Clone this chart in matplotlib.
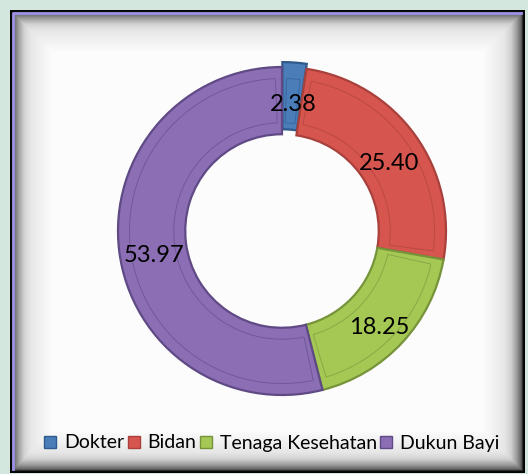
import numpy as np
import matplotlib
matplotlib.use('Agg')
import matplotlib.pyplot as plt
from matplotlib.lines import Line2D
from matplotlib.patches import Wedge

plt.rcParams['font.family'] = ['Lato', 'DejaVu Sans']

categories = ['Dokter', 'Bidan', 'Tenaga Kesehatan', 'Dukun Bayi']
values = [2.38, 25.40, 18.25, 53.97]
colors = ['#4b7db9', '#d7554f', '#a5c855', '#8c6eb4']
edge_colors = ['#2f5a8c', '#a8403b', '#76933a', '#5f4a85']

W, H = 528, 474
fig = plt.figure(figsize=(W / 100, H / 100), dpi=100)
fig.patch.set_facecolor('#d3e7df')

# frame: black border + grey bevel fading into white panel
bg = fig.add_axes([0, 0, 1, 1])
bg.set_xlim(0, W)
bg.set_ylim(H, 0)
bg.axis('off')
x0, x1, y0, y1 = 10, 525, 10, 473
xs = np.arange(x0, x1) + 0.5
ys = np.arange(y0, y1) + 0.5
XX, YY = np.meshgrid(xs, ys)
d = np.minimum.reduce([XX - x0, x1 - XX, YY - y0, y1 - YY])
shade = np.interp(d, [0, 2, 3, 4, 8, 14, 20, 30, 42], [0.0, 0.05, 0.3, 0.4, 0.6, 0.82, 0.9, 0.94, 0.99])
img = np.clip(np.dstack([shade, shade, shade]), 0, 1)
bg.imshow(img, extent=[x0, x1, y1, y0], interpolation='bilinear', zorder=0)
bg.plot([x0 + 3, x0 + 3, x1 - 4], [y1 - 4, y0 + 3, y0 + 3], color='#9c90e8', lw=2)

# doughnut
R = 164
cx, cy = 282, 231
ax = fig.add_axes([(cx - 1.1 * R) / W, (H - cy - 1.1 * R) / H, 2.2 * R / W, 2.2 * R / H])

wedges, texts, autotexts = ax.pie(
    values, colors=colors, startangle=90, counterclock=False,
    explode=[0.03, 0, 0, 0], radius=1.0, autopct='%.2f', pctdistance=0.795,
    wedgeprops=dict(width=0.41, linewidth=1.6),
    textprops=dict(fontsize=17, color='black'))
ax.set_xlim(-1.1, 1.1)
ax.set_ylim(-1.1, 1.1)
ax.axis('off')
for w, ec in zip(wedges, edge_colors):
    w.set_edgecolor(ec)
for t in autotexts:
    px, py = t.get_position()
    t.set_position((px + 0.01, py - 0.05))

# inset bevel lines
ang = 90
for v, ec in zip(values, edge_colors):
    span = v * 3.6
    a1, a2 = ang - span, ang
    inset = min(2.5, span * 0.2)
    ax.add_patch(Wedge((0, 0), 0.93, a1 + inset, a2 - inset, width=0.27,
                       fill=False, edgecolor=ec, lw=0.7, alpha=0.6))
    ang = a1

handles = [Line2D([], [], marker='s', ls='none', markersize=9,
                  markerfacecolor=c, markeredgecolor=e) for c, e in zip(colors, edge_colors)]
fig.legend(handles, categories, loc='center', bbox_to_anchor=(271 / W, 1 - 443 / H),
           ncol=4, frameon=False, fontsize=14, handlelength=0.8, handletextpad=0.3,
           columnspacing=0.1, borderpad=0)

fig.savefig('out.png', dpi=100, facecolor=fig.get_facecolor())
